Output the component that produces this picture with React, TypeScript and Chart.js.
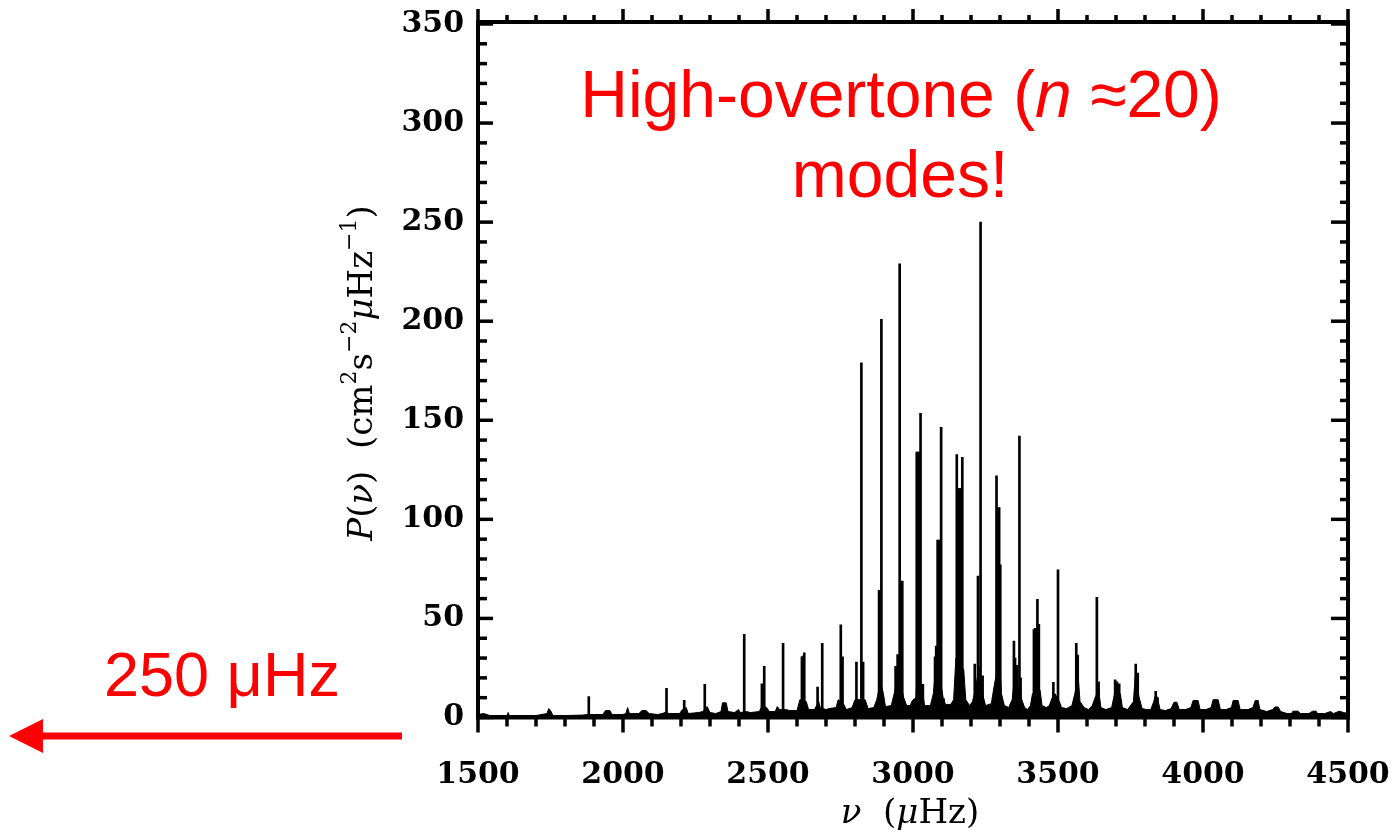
import { useEffect, useRef } from "react";
import { Chart, registerables } from "chart.js";

Chart.register(...registerables);

// ---- data (frequency in µHz, power in cm^2 s^-2 µHz^-1) ----
const peakFreq = [
  1882, 2150, 2211, 2282, 2418, 2479, 2487, 2552, 2617, 2621, 2625, 2671, 2687,
  2751, 2757, 2805, 2822, 2828, 2883, 2891, 2940, 2947, 2954, 2963,
  3013, 3017, 3021, 3026, 3034, 3076, 3080, 3085, 3090, 3097, 3105,
  3151, 3157, 3161, 3165, 3170, 3213, 3224, 3233, 3240,
  3288, 3293, 3297, 3301, 3348, 3352, 3358, 3367, 3371,
  3417, 3421, 3425, 3429, 3434, 3484, 3500, 3563, 3568, 3634, 3640,
  3697, 3703, 3711, 3768, 3775, 3837, 3843,
];
const peakPower = [
  10.5, 14.7, 8.7, 16.7, 42, 17, 25.8, 37.4, 30.6, 31, 32.7, 15.3, 37.4,
  46.8, 30.6, 28, 179, 28, 64.2, 201, 25.8, 31.8, 229, 68.8,
  133.9, 133.9, 133.9, 153.5, 16.7, 30.6, 36, 89.5, 89.5, 146.4, 9.5,
  132.7, 115.5, 115.5, 115.5, 131.3, 26.9, 71.4, 250, 21,
  122, 106, 106, 77, 38.6, 30, 26.3, 142, 20,
  44.4, 45, 45, 59.6, 47, 17.8, 74.5, 37.4, 31.5, 60.6, 18,
  19, 18, 17, 26.9, 22.4, 13.2, 10,
];

const floorFreq = [
  1500, 1520, 1540, 1600, 1604, 1608, 1700, 1738, 1744, 1752, 1758, 1800, 1860,
  1878, 1890, 1930, 1940, 1955, 1962, 2000, 2010, 2016, 2022, 2055, 2065, 2080,
  2090, 2120, 2135, 2145, 2160, 2195, 2205, 2218, 2225, 2260, 2275, 2290, 2300,
  2320, 2338, 2343, 2356, 2362, 2385, 2398, 2405, 2425, 2440, 2470, 2480, 2495,
  2505, 2525, 2532, 2540, 2560, 2575, 2600, 2610, 2632, 2640, 2660, 2675, 2680,
  2700, 2710, 2735, 2742, 2760, 2770, 2790, 2800, 2835, 2845, 2865, 2875, 2888,
  2898, 2905, 2925, 2935, 2950, 2968, 2978, 2990, 2998, 3010, 3015, 3030, 3040,
  3060, 3070, 3082, 3104, 3112, 3130, 3140, 3148, 3175, 3182, 3195, 3205, 3215,
  3228, 3240, 3250, 3270, 3280, 3298, 3305, 3315, 3330, 3342, 3350, 3362, 3375,
  3385, 3395, 3405, 3412, 3438, 3445, 3460, 3470, 3480, 3490, 3505, 3512, 3530,
  3548, 3558, 3570, 3576, 3590, 3605, 3618, 3628, 3640, 3648, 3665, 3685, 3695,
  3715, 3722, 3740, 3760, 3766, 3780, 3790, 3805, 3820, 3830, 3838, 3846, 3852,
  3870, 3890, 3900, 3910, 3918, 3940, 3958, 3966, 3983, 3990, 4010, 4028, 4035,
  4052, 4060, 4080, 4098, 4104, 4121, 4128, 4155, 4172, 4180, 4190, 4196, 4220,
  4240, 4248, 4259, 4268, 4290, 4305, 4310, 4328, 4335, 4365, 4378, 4390, 4395,
  4420, 4440, 4450, 4470, 4485, 4500,
];
const floorPower = [
  1.5, 2, 1, 1, 2.5, 1, 1, 2, 4.5, 3, 1, 1, 1.2,
  1.5, 1.5, 1.5, 3.5, 3.5, 1.5, 1.5, 2, 5, 2, 2, 3.5, 3.5,
  2, 1.5, 2, 2.5, 2, 2, 4, 5, 2, 2.5, 3, 5.5, 2.5,
  2, 3, 7.4, 7.4, 3, 2.5, 4, 2.5, 3, 2.5, 3, 6, 5,
  3, 3, 5.5, 4, 4, 3.5, 3.5, 9, 8, 4, 4, 8, 5,
  4, 4.5, 5, 9, 7, 4, 5, 9, 9, 4.5, 5, 9, 18,
  12, 5.5, 6, 12, 22, 10, 6, 6, 8.6, 10, 25, 16, 6,
  6, 12, 30, 10, 6.6, 6.6, 9, 30, 24, 9, 6, 8, 14,
  26, 12, 6, 7, 16, 30, 12, 6, 5, 9, 20, 16, 9,
  5, 4, 6, 12, 14, 6, 5, 6, 10, 12, 8, 5, 4.5,
  6, 12, 20, 8, 5, 4, 6, 10, 14, 5, 4, 5, 12,
  12, 5, 4, 8, 20, 10, 4.5, 4, 4, 8, 12, 8, 4,
  3.5, 4.5, 7.7, 7.7, 4, 4, 5, 8.6, 8.6, 4, 4, 5, 9,
  9, 4, 4, 5, 8.6, 8.6, 4, 4, 5, 8.6, 8.6, 4, 3,
  4, 5.3, 5.3, 3, 2, 2, 3.2, 3.2, 2, 2, 3.2, 3.2, 2,
  2, 3, 2, 3.2, 2.5, 2,
];

const xTickValues = [1500, 2000, 2500, 3000, 3500, 4000, 4500];
const yTickValues = [0, 50, 100, 150, 200, 250, 300, 350];
const xMin = 1500;
const xMax = 4500;
const yMin = 0;
const yMax = 351;

type Seg = { t: string; font: string; dy?: number };

function drawSegments(ctx: CanvasRenderingContext2D, segs: Seg[], x: number, y: number, align: "center" | "left") {
  let total = 0;
  for (const s of segs) {
    ctx.font = s.font;
    total += ctx.measureText(s.t).width;
  }
  let cx = align === "center" ? x - total / 2 : x;
  ctx.textAlign = "left";
  ctx.textBaseline = "alphabetic";
  for (const s of segs) {
    ctx.font = s.font;
    ctx.fillText(s.t, cx, y + (s.dy || 0));
    cx += ctx.measureText(s.t).width;
  }
}

const framePlugin = {
  id: "frameAndNotes",
  afterDraw(chart: any) {
    const { ctx, chartArea: a, scales } = chart;
    const xs = scales.x;
    const ys = scales.y;
    ctx.save();
    ctx.strokeStyle = "#000";
    ctx.lineCap = "butt";
    ctx.lineWidth = 3.5;
    const seg = (x1: number, y1: number, x2: number, y2: number) => {
      ctx.beginPath();
      ctx.moveTo(x1, y1);
      ctx.lineTo(x2, y2);
      ctx.stroke();
    };
    for (let v = xMin; v <= xMax; v += 100) {
      const px = xs.getPixelForValue(v);
      const major = v % 500 === 0;
      seg(px, a.bottom, px, a.bottom + (major ? 15 : 9));
      seg(px, a.top, px, a.top - (major ? 13 : 7));
    }
    for (let v = yMin; v <= yMax; v += 10) {
      const py = ys.getPixelForValue(v);
      const major = v % 50 === 0;
      seg(a.left, py, a.left + (major ? 15 : 9), py);
      seg(a.right, py, a.right - (major ? 17 : 8), py);
    }
    ctx.lineWidth = 4;
    ctx.strokeRect(a.left, a.top, a.right - a.left, a.bottom - a.top);

    // axis titles
    ctx.fillStyle = "#000";
    const serif = "'DejaVu Serif', serif";
    const big = `34px ${serif}`;
    const bigI = `italic 34px ${serif}`;
    const sup = `22px ${serif}`;
    ctx.save();
    ctx.translate(372, 373);
    ctx.rotate(-Math.PI / 2);
    drawSegments(
      ctx,
      [
        { t: "P", font: bigI },
        { t: "(", font: big },
        { t: "ν", font: bigI },
        { t: ")  (cm", font: big },
        { t: "2", font: sup, dy: -16 },
        { t: "s", font: big },
        { t: "−2", font: sup, dy: -16 },
        { t: "μ", font: bigI },
        { t: "Hz", font: big },
        { t: "−1", font: sup, dy: -16 },
        { t: ")", font: big },
      ],
      0,
      0,
      "center"
    );
    ctx.restore();
    drawSegments(
      ctx,
      [
        { t: "ν", font: bigI },
        { t: "  (", font: big },
        { t: "μ", font: bigI },
        { t: "Hz)", font: big },
      ],
      910,
      823,
      "center"
    );

    // red annotations
    ctx.fillStyle = "#ff0000";
    ctx.strokeStyle = "#ff0000";
    const sans = "'Liberation Sans', Arial, sans-serif";
    drawSegments(
      ctx,
      [
        { t: "High-overtone (", font: `66px ${sans}` },
        { t: "n", font: `italic 66px ${sans}` },
        { t: " ≈20)", font: `66px ${sans}` },
      ],
      901,
      117,
      "center"
    );
    drawSegments(ctx, [{ t: "modes!", font: `66px ${sans}` }], 900, 197, "center");
    drawSegments(ctx, [{ t: "250 μHz", font: `63px ${sans}` }], 104, 696, "left");

    ctx.lineWidth = 7;
    seg(402, 736, 38, 736);
    ctx.beginPath();
    ctx.moveTo(9, 736);
    ctx.lineTo(43, 719);
    ctx.lineTo(43, 753);
    ctx.closePath();
    ctx.fill();
    ctx.restore();
  },
};

export default function App() {
  const canvasRef = useRef<HTMLCanvasElement | null>(null);

  useEffect(() => {
    if (!canvasRef.current) return;
    const tickFont = { family: "'DejaVu Serif', serif", size: 30, weight: "bold" as const };
    const chart = new Chart(canvasRef.current, {
      type: "bar",
      data: {
        datasets: [
          {
            type: "bar",
            data: peakFreq.map((f, i) => ({ x: f, y: peakPower[i] })),
            backgroundColor: "#000",
            borderWidth: 0,
            barThickness: 2,
            order: 1,
          } as any,
          {
            type: "line",
            data: floorFreq.map((f, i) => ({ x: f, y: floorPower[i] })),
            borderColor: "#000",
            backgroundColor: "#000",
            borderWidth: 1,
            fill: "origin",
            pointRadius: 0,
            tension: 0,
            order: 2,
          } as any,
        ],
      },
      options: {
        responsive: false,
        animation: false,
        devicePixelRatio: 1,
        layout: { padding: { top: 22, right: 46, left: 0, bottom: 0 } },
        plugins: { legend: { display: false }, tooltip: { enabled: false } },
        scales: {
          x: {
            type: "linear",
            min: xMin,
            max: xMax,
            offset: false,
            grid: { display: false, drawTicks: false },
            border: { display: false },
            afterBuildTicks: (s: any) => {
              s.ticks = xTickValues.map((v) => ({ value: v }));
            },
            afterFit: (s: any) => {
              s.height = 833 - 717.5;
              s.paddingLeft = 0;
              s.paddingRight = 0;
            },
            ticks: {
              font: tickFont,
              color: "#000",
              padding: 40,
              maxRotation: 0,
              autoSkip: false,
              includeBounds: false,
              callback: (v: any) => String(v),
            },
          },
          y: {
            type: "linear",
            min: yMin,
            max: yMax,
            grid: { display: false, drawTicks: false },
            border: { display: false },
            afterBuildTicks: (s: any) => {
              s.ticks = yTickValues.map((v) => ({ value: v }));
            },
            afterFit: (s: any) => {
              s.width = 478;
              s.paddingTop = 0;
              s.paddingBottom = 0;
            },
            ticks: {
              font: tickFont,
              color: "#000",
              padding: 14,
              autoSkip: false,
              includeBounds: false,
              callback: (v: any) => String(v),
            },
          },
        },
      } as any,
      plugins: [framePlugin],
    });
    return () => chart.destroy();
  }, []);

  return (
    <div style={{ position: "absolute", left: 0, top: 0, width: 1394, height: 833, background: "#fff" }}>
      <canvas ref={canvasRef} width={1394} height={833} style={{ width: 1394, height: 833, display: "block" }} />
    </div>
  );
}
